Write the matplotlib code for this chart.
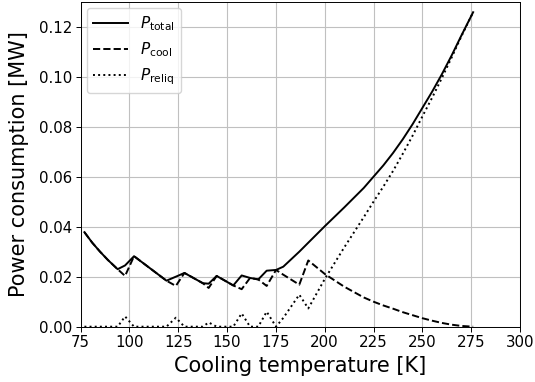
import numpy as np
import matplotlib
matplotlib.use("Agg")
import matplotlib.pyplot as plt

# power draw vs cooling temperature
temperature = [77, 81, 85, 89, 94, 97.8, 102.4, 119, 123.8, 128.2, 137.6, 140.6,
               144.7, 153.2, 157.5, 161.8, 166.0, 170.3, 175.1, 178.8, 187.0,
               191.6, 200.2, 210, 220, 225, 230, 235, 240, 245, 250, 255, 260,
               265, 270, 276]

p_total = [0.0378, 0.0336, 0.0300, 0.0267, 0.0230, 0.0245, 0.0282, 0.0184,
           0.0200, 0.0215, 0.0174, 0.0172, 0.0203, 0.0165, 0.0205, 0.0195,
           0.0189, 0.0224, 0.0227, 0.0240, 0.0300, 0.0336, 0.0403, 0.0477,
           0.0555, 0.0600, 0.0645, 0.0695, 0.0750, 0.0810, 0.0875, 0.0940,
           0.1010, 0.1085, 0.1165, 0.1258]

p_cool = [0.0378, 0.0336, 0.0300, 0.0267, 0.0230, 0.0203, 0.0282, 0.0184,
          0.0163, 0.0215, 0.0174, 0.0155, 0.0203, 0.0165, 0.0150, 0.0195,
          0.0189, 0.0163, 0.0227, 0.0208, 0.0168, 0.0265, 0.0210, 0.0160,
          0.0117, 0.0100, 0.0085, 0.0072, 0.0058, 0.0046, 0.0034, 0.0024,
          0.0015, 0.0008, 0.0003, 0.0]

p_reliq = [0.0, 0.0, 0.0, 0.0, 0.0, 0.0041, 0.0, 0.0, 0.0036, 0.0, 0.0, 0.0017,
           0.0, 0.0, 0.0053, 0.0, 0.0, 0.0060, 0.0, 0.0035, 0.0128, 0.0073,
           0.0193, 0.0317, 0.0438, 0.0500, 0.0560, 0.0623, 0.0692, 0.0764,
           0.0841, 0.0916, 0.0995, 0.1077, 0.1162, 0.1258]

fig = plt.figure(figsize=(5.35, 3.82), dpi=100)
ax = fig.add_axes([0.1505, 0.1448, 0.8215, 0.8507])

ax.plot(temperature, p_total, "k-", lw=1.4, label=r"$P_\mathrm{total}$")
ax.plot(temperature, p_cool, "k--", lw=1.4, label=r"$P_\mathrm{cool}$")
ax.plot(temperature, p_reliq, "k:", lw=1.4, label=r"$P_\mathrm{reliq}$")

ax.set_xlim(75, 300)
ax.set_ylim(0, 0.13)
ax.set_xticks(np.arange(75, 301, 25))
ax.set_yticks(np.arange(0, 0.121, 0.02))
ax.yaxis.set_major_formatter(matplotlib.ticker.FormatStrFormatter("%.2f"))
ax.tick_params(labelsize=10.8, length=3.5, width=0.7, pad=2.5)
for s in ax.spines.values():
    s.set_linewidth(0.7)
ax.grid(True, color="#c0c0c0", lw=0.8)

ax.set_xlabel("Cooling temperature [K]", fontsize=15, labelpad=4)
ax.set_ylabel("Power consumption [MW]", fontsize=15, labelpad=7)
ax.legend(loc="upper left", fontsize=11, handlelength=2.3, borderaxespad=0.4)

fig.savefig("out.png", dpi=100)
